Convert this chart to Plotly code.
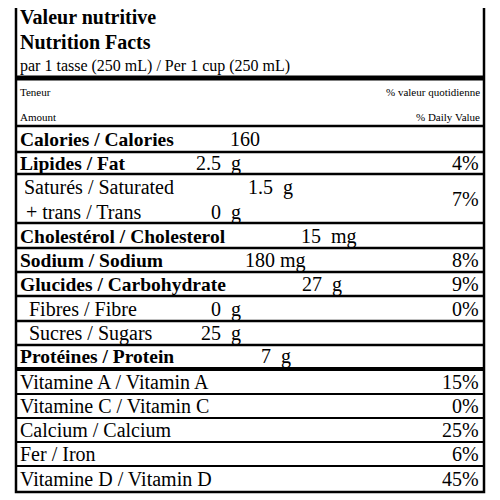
import plotly.graph_objects as go

# nutrient rows
labels = ["Calories / Calories", "Lipides / Fat", "Saturés / Saturated", "+ trans / Trans",
          "Cholestérol / Cholesterol", "Sodium / Sodium", "Glucides / Carbohydrate",
          "Fibres / Fibre", "Sucres / Sugars", "Protéines / Protein"]
amounts = ["160", "2.5  g", "1.5  g", "0  g", "15  mg", "180 mg", "27  g", "0  g", "25  g", "7  g"]
daily = ["", "4%", "", "", "", "8%", "9%", "0%", "", ""]
bold = [True, True, False, False, True, True, True, False, False, True]
indent = [0, 0, 4, 6, 0, 0, 0, 9, 9, 0]
row_y = [139, 163, 187, 212, 236, 260, 284, 309, 333, 356]
amt_x = [262, 243, 295, 243, 359, 308, 344, 243, 243, 293]
sat_trans_dv = "7%"

vitamins = ["Vitamine A / Vitamin A", "Vitamine C / Vitamin C", "Calcium / Calcium",
            "Fer / Iron", "Vitamine D / Vitamin D"]
vitamin_dv = ["15%", "0%", "25%", "6%", "45%"]
vit_y = [382, 406, 430, 454, 479]

FONT = "Liberation Serif"
fig = go.Figure()
ann = []
shapes = []

def txt(x, y, s, size=20, b=False, anchor="left"):
    ann.append(dict(x=x, y=y, xref="x", yref="y", text=f"<b>{s}</b>" if b else s,
                    showarrow=False, xanchor=anchor, yanchor="middle",
                    font=dict(family=FONT, size=size, color="black")))

def hline(y, w=2.5):
    shapes.append(dict(type="line", x0=16, x1=484, y0=y, y1=y, xref="x", yref="y",
                       line=dict(color="black", width=w)))

shapes.append(dict(type="rect", x0=16, x1=484, y0=5, y1=492, xref="x", yref="y",
                   line=dict(color="black", width=2.5)))

txt(18, 17, "Valeur nutritive", 20, True)
txt(18, 42, "Nutrition Facts", 20, True)
txt(18, 66, "par 1 tasse (250 mL) / Per 1 cup (250 mL)", 16)
hline(78, 5)
txt(18, 92, "Teneur", 11)
txt(18, 117, "Amount", 11)
txt(482, 92, "% valeur quotidienne", 11, anchor="right")
txt(482, 117, "% Daily Value", 11, anchor="right")
hline(126, 2.5)

for i, lab in enumerate(labels):
    txt(18 + indent[i], row_y[i], lab, 19.5 if bold[i] else 20, bold[i])
    txt(amt_x[i], row_y[i], amounts[i], 20, anchor="right")
    if daily[i]:
        txt(481, row_y[i], daily[i], 20, anchor="right")
txt(481, 199, sat_trans_dv, 20, anchor="right")

for y in [152, 174, 223, 248, 272, 296, 321, 345]:
    hline(y)
hline(369, 4)

for i, v in enumerate(vitamins):
    txt(18, vit_y[i], v, 20)
    txt(481, vit_y[i], vitamin_dv[i], 20, anchor="right")
for y in [394, 418, 442, 466]:
    hline(y, 2)

# page body has an 8px margin, so shift the ranges to keep pixel positions
fig.update_layout(width=500, height=500, margin=dict(l=0, r=0, t=0, b=0),
                  plot_bgcolor="white", paper_bgcolor="white",
                  xaxis=dict(range=[8, 508], visible=False, fixedrange=True),
                  yaxis=dict(range=[508, 8], visible=False, fixedrange=True),
                  annotations=ann, shapes=shapes, showlegend=False)
fig.write_html("out.html")
